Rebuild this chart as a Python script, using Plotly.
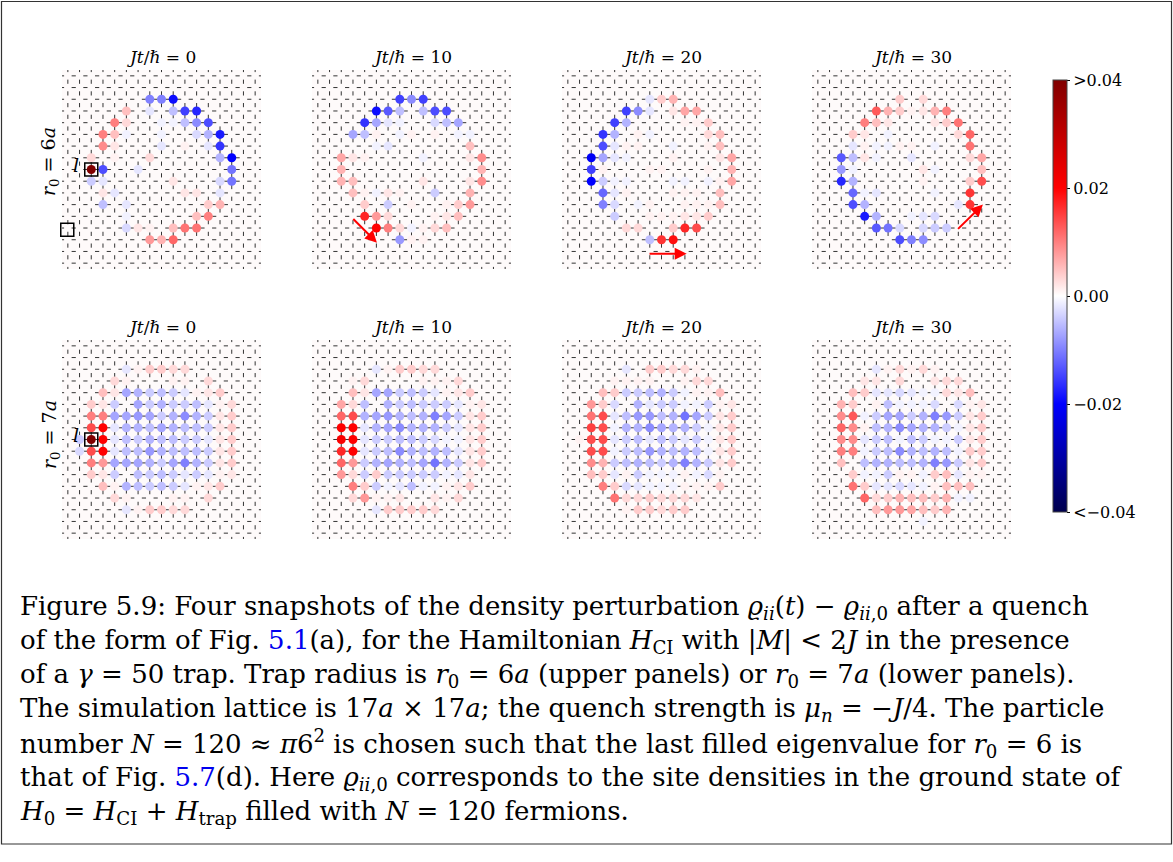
import numpy as np
import plotly.graph_objects as go

W, H = 1173, 862

# Density perturbation (units of 1e-3) on the 17x17 lattice: (column, row, value)
R6_T0 = [
    (7, 14, -10), (8, 14, -10), (9, 14, -19),
    (5, 13, 5), (7, 13, -2), (9, 13, -5), (10, 13, -15), (11, 13, -17),
    (4, 12, 10), (5, 12, 3), (8, 12, -1), (9, 12, -1), (10, 12, -5), (11, 12, -9), (12, 12, -14),
    (3, 11, 10), (4, 11, 5), (5, 11, -1), (8, 11, -1), (11, 11, -3), (12, 11, -6), (13, 11, -18),
    (3, 10, 9), (4, 10, 2), (8, 10, -2), (10, 10, 1), (12, 10, -2), (13, 10, -16),
    (2, 9, 3), (4, 9, 1), (7, 9, 3), (13, 9, -6), (14, 9, -20),
    (2, 8, 45), (3, 8, -14), (6, 8, -2), (14, 8, -11),
    (2, 7, -4), (3, 7, -2), (9, 7, 2), (13, 7, -3), (14, 7, -11),
    (3, 6, 2), (4, 6, -2), (10, 6, 2), (11, 6, 2), (13, 6, -2),
    (3, 5, -5), (5, 5, -2), (12, 5, 4), (13, 5, 6),
    (5, 4, -1), (11, 4, 5), (12, 4, 10),
    (5, 3, -3), (6, 3, 2), (7, 3, 1), (9, 3, 5), (10, 3, 11), (11, 3, 11),
    (7, 2, 8), (8, 2, 6), (9, 2, 12),
]
R6_T10 = [
    (7, 14, -15), (8, 14, -9), (9, 14, -15),
    (5, 13, -19), (6, 13, -13), (7, 13, -5), (9, 13, -5), (10, 13, -14), (11, 13, -14),
    (4, 12, -16), (5, 12, -7), (6, 12, -2), (7, 12, -1), (10, 12, -3), (11, 12, -5), (12, 12, -7),
    (3, 11, -7), (4, 11, -5), (5, 11, 1), (7, 11, -1), (8, 11, 1), (10, 11, 1), (12, 11, -1), (13, 11, -1),
    (5, 10, -1), (6, 10, -2), (13, 10, 5),
    (2, 9, 7), (3, 9, 2), (4, 9, 1), (9, 9, -1), (13, 9, 2), (14, 9, 9),
    (2, 8, 6), (14, 8, 6),
    (2, 7, 6), (3, 7, 5), (9, 7, 2), (13, 7, 2), (14, 7, 9),
    (3, 6, 5), (4, 6, 1), (5, 6, -1), (6, 6, 2), (7, 6, 1), (10, 6, -4), (13, 6, 6),
    (4, 5, 4), (6, 5, -4), (8, 5, 1), (11, 5, 1), (12, 5, 4), (13, 5, 8),
    (4, 4, 17), (5, 4, 8), (6, 4, 3), (10, 4, 1), (11, 4, 2), (12, 4, 5),
    (5, 3, 20), (6, 3, 10), (7, 3, 3), (8, 3, -1), (9, 3, 1), (10, 3, 3), (11, 3, 5),
    (7, 2, -8), (8, 2, 1), (9, 2, 1),
]
R6_T20 = [
    (7, 14, -2), (8, 14, 4), (9, 14, 6),
    (5, 13, -15), (6, 13, -9), (7, 13, -2), (9, 13, 2), (10, 13, 7), (11, 13, 7),
    (4, 12, -15), (5, 12, -6), (10, 12, 1), (11, 12, 1), (12, 12, 4),
    (3, 11, -16), (4, 11, -6), (6, 11, 1), (7, 11, -1), (12, 11, 3), (13, 11, 5),
    (3, 10, -14), (4, 10, -2), (5, 10, 1), (6, 10, 1), (9, 10, -1), (12, 10, 1), (13, 10, 5),
    (2, 9, -21), (3, 9, -7), (4, 9, -2), (5, 9, -1), (9, 9, 1), (13, 9, 2), (14, 9, 7),
    (2, 8, -15), (3, 8, 1), (7, 8, 1), (8, 8, 1), (12, 8, 1), (14, 8, 6),
    (2, 7, -20), (3, 7, -4), (4, 7, -1), (5, 7, -1), (9, 7, -1), (10, 7, -1), (12, 7, -1), (13, 7, 1), (14, 7, 7),
    (3, 6, -12), (4, 6, -2), (5, 6, 1), (9, 6, 1), (10, 6, 1), (11, 6, 1), (13, 6, 5),
    (3, 5, -10), (4, 5, -3), (6, 5, -1), (7, 5, 1), (10, 5, 1), (11, 5, 1), (12, 5, 1), (13, 5, 5),
    (4, 4, -4), (7, 4, 1), (8, 4, 1), (9, 4, 1), (10, 4, 2), (11, 4, 2), (12, 4, 4),
    (5, 3, 3), (6, 3, 3), (9, 3, 4), (10, 3, 17), (11, 3, 14),
    (7, 2, -5), (8, 2, 16), (9, 2, 19),
]
R6_T30 = [
    (7, 14, 4), (9, 14, 3),
    (5, 13, 13), (6, 13, 6), (7, 13, 4), (8, 13, 1), (9, 13, 2), (10, 13, 6), (11, 13, 10),
    (4, 12, 10), (5, 12, 5), (6, 12, 2), (10, 12, 2), (11, 12, 4), (12, 12, 11),
    (3, 11, 4), (4, 11, 2), (6, 11, -1), (12, 11, 3), (13, 11, 12),
    (3, 10, -2), (4, 10, 1), (5, 10, -1), (6, 10, -1), (7, 10, 1), (8, 10, 1), (10, 10, -1), (13, 10, 11),
    (2, 9, -13), (3, 9, -5), (4, 9, 2), (5, 9, -1), (8, 9, -2), (13, 9, 3), (14, 9, 7),
    (2, 8, -8), (3, 8, -1), (9, 8, 2), (10, 8, -1), (14, 8, 5),
    (2, 7, -17), (3, 7, -6), (9, 7, 1), (13, 7, 4), (14, 7, 14),
    (3, 6, -12), (4, 6, -1), (5, 6, -2), (10, 6, -1), (13, 6, 16),
    (3, 5, -14), (4, 5, -6), (12, 5, -2), (13, 5, 16),
    (4, 4, -18), (5, 4, -6), (8, 4, -1), (9, 4, -2), (10, 4, -3),
    (5, 3, -13), (6, 3, -11), (7, 3, -3), (9, 3, -3), (10, 3, -4), (11, 3, -4),
    (7, 2, -14), (8, 2, -10), (9, 2, -9),
]
R7_T0 = [
    (5, 14, -2), (6, 14, 1), (7, 14, 4), (8, 14, 4), (9, 14, 3), (10, 14, 3),
    (4, 13, 3), (5, 13, 1), (9, 13, 1), (10, 13, 1), (12, 13, 3),
    (3, 12, 5), (4, 12, 2), (5, 12, -7), (6, 12, -6), (7, 12, -4), (8, 12, -5), (9, 12, -4), (10, 12, -2), (11, 12, 1), (12, 12, 2), (13, 12, 4),
    (2, 11, 4), (3, 11, 2), (4, 11, -4), (6, 11, -7), (7, 11, -4), (8, 11, -6), (9, 11, -4), (10, 11, -4), (11, 11, -5), (12, 11, -2), (13, 11, 1), (14, 11, 3),
    (2, 10, 10), (3, 10, 10), (4, 10, -7), (5, 10, -7), (6, 10, -8), (7, 10, -7), (8, 10, -4), (9, 10, -6), (10, 10, -9), (11, 10, -6), (12, 10, -4), (13, 10, 2), (14, 10, 4),
    (2, 9, 14), (3, 9, 20), (4, 9, -2), (5, 9, -6), (6, 9, -6), (7, 9, -5), (8, 9, -7), (9, 9, -6), (10, 9, -5), (11, 9, -5), (12, 9, -4), (13, 9, 2), (14, 9, 4),
    (1, 8, -4), (2, 8, 45), (3, 8, 20), (4, 8, -2), (5, 8, -5), (6, 8, -4), (7, 8, -6), (8, 8, -5), (9, 8, -5), (10, 8, -4), (11, 8, -4), (12, 8, -2), (13, 8, 2), (14, 8, 4),
    (1, 7, -3), (2, 7, 14), (3, 7, 20), (4, 7, -2), (5, 7, -5), (6, 7, -5), (7, 7, -8), (8, 7, -6), (9, 7, -5), (10, 7, -5), (11, 7, -5), (12, 7, -4), (13, 7, 2), (14, 7, 4),
    (2, 6, 10), (3, 6, 8), (4, 6, -7), (5, 6, -7), (6, 6, -7), (7, 6, -6), (8, 6, -4), (9, 6, -7), (10, 6, -10), (11, 6, -6), (12, 6, -4), (13, 6, 2), (14, 6, 4),
    (2, 5, 4), (3, 5, 2), (4, 5, -4), (6, 5, -5), (7, 5, -4), (8, 5, -5), (9, 5, -4), (10, 5, -2), (11, 5, -4), (12, 5, -2), (13, 5, 1), (14, 5, 2),
    (3, 4, 5), (4, 4, 1), (5, 4, -6), (6, 4, -5), (7, 4, -4), (8, 4, -5), (9, 4, -4), (10, 4, -2), (11, 4, 1), (12, 4, 2), (13, 4, 4),
    (4, 3, 3), (5, 3, 1), (9, 3, 1), (10, 3, 1), (12, 3, 3),
    (5, 2, -2), (6, 2, 1), (7, 2, 4), (8, 2, 4), (9, 2, 3), (10, 2, 3),
]
R7_T10 = [
    (5, 14, -2), (6, 14, 1), (7, 14, 4), (8, 14, 4), (9, 14, 3), (10, 14, 3),
    (3, 13, 1), (4, 13, 3), (9, 13, 1), (10, 13, 1), (11, 13, 1), (12, 13, 3),
    (3, 12, 5), (4, 12, 2), (5, 12, -7), (6, 12, -7), (7, 12, -4), (8, 12, -5), (9, 12, -4), (10, 12, -2), (11, 12, 1), (12, 12, 2), (13, 12, 4),
    (2, 11, 7), (3, 11, 3), (4, 11, -5), (6, 11, -6), (7, 11, -4), (8, 11, -5), (9, 11, -4), (10, 11, -4), (11, 11, -4), (12, 11, -2), (13, 11, 1), (14, 11, 2),
    (2, 10, 12), (3, 10, 14), (4, 10, -6), (5, 10, -7), (6, 10, -8), (7, 10, -6), (8, 10, -5), (9, 10, -6), (10, 10, -10), (11, 10, -7), (12, 10, -4), (13, 10, 2), (14, 10, 4),
    (2, 9, 20), (3, 9, 20), (4, 9, -2), (5, 9, -6), (6, 9, -7), (7, 9, -9), (8, 9, -6), (9, 9, -6), (10, 9, -6), (11, 9, -4), (12, 9, -2), (13, 9, 2), (14, 9, 4),
    (2, 8, 21), (3, 8, 20), (4, 8, -2), (5, 8, -4), (6, 8, -4), (7, 8, -5), (8, 8, -5), (9, 8, -4), (10, 8, -3), (11, 8, -1), (12, 8, -1), (13, 8, 2), (14, 8, 4),
    (2, 7, 17), (3, 7, 20), (4, 7, -2), (5, 7, -4), (6, 7, -5), (7, 7, -9), (8, 7, -6), (9, 7, -5), (10, 7, -6), (11, 7, -5), (12, 7, -2), (13, 7, 2), (14, 7, 4),
    (2, 6, 12), (3, 6, 8), (4, 6, -4), (5, 6, -6), (6, 6, -7), (7, 6, -6), (8, 6, -5), (9, 6, -7), (10, 6, -11), (11, 6, -6), (12, 6, -4), (13, 6, 2), (14, 6, 4),
    (2, 5, 8), (3, 5, 3), (4, 5, -4), (5, 5, 4), (6, 5, -4), (7, 5, -4), (8, 5, -4), (9, 5, -4), (10, 5, -4), (11, 5, -1), (12, 5, -2), (13, 5, 2),
    (3, 4, 10), (4, 4, 4), (5, 4, -4), (6, 4, -1), (7, 4, -2), (8, 4, -5), (9, 4, -1), (10, 4, -1), (11, 4, 1), (12, 4, 2), (13, 4, 4),
    (3, 3, 3), (4, 3, 8), (5, 3, 1), (6, 3, 1), (7, 3, 2), (10, 3, 2), (11, 3, 1), (12, 3, 3),
    (5, 2, -2), (6, 2, 4), (7, 2, 4), (8, 2, 4), (9, 2, 4), (10, 2, 3),
]
R7_T20 = [
    (5, 14, -2), (7, 14, 4), (8, 14, 4), (9, 14, 3), (10, 14, 3), (11, 14, 1),
    (4, 13, 1), (5, 13, 1), (6, 13, 1), (7, 13, 1), (10, 13, 1), (11, 13, 3), (12, 13, 3),
    (3, 12, 5), (4, 12, 4), (5, 12, -4), (6, 12, -4), (7, 12, -5), (8, 12, -6), (9, 12, -4), (10, 12, -1), (11, 12, 1), (12, 12, 1), (13, 12, 5),
    (2, 11, 8), (3, 11, 4), (4, 11, -3), (6, 11, -6), (7, 11, -2), (8, 11, -4), (9, 11, -4), (10, 11, -1), (11, 11, -1), (12, 11, -4), (13, 11, 1), (14, 11, 2),
    (2, 10, 11), (3, 10, 14), (4, 10, -2), (5, 10, -5), (6, 10, -8), (7, 10, -8), (8, 10, -5), (9, 10, -6), (10, 10, -11), (11, 10, -7), (12, 10, -4), (13, 10, 2), (14, 10, 4),
    (2, 9, 15), (3, 9, 14), (4, 9, -1), (5, 9, -6), (6, 9, -6), (7, 9, -9), (8, 9, -7), (9, 9, -6), (10, 9, -6), (11, 9, -4), (12, 9, -1), (13, 9, 2), (14, 9, 4),
    (1, 8, 1), (2, 8, 14), (3, 8, 14), (4, 8, -2), (5, 8, -4), (6, 8, -5), (7, 8, -2), (8, 8, -5), (9, 8, -4), (10, 8, -2), (11, 8, -4), (12, 8, -1), (13, 8, 2), (14, 8, 4),
    (2, 7, 14), (3, 7, 14), (4, 7, -1), (5, 7, -4), (6, 7, -5), (7, 7, -8), (8, 7, -6), (9, 7, -5), (10, 7, -6), (11, 7, -5), (12, 7, -1), (13, 7, 2), (14, 7, 4),
    (2, 6, 9), (3, 6, 6), (4, 6, -4), (5, 6, -5), (6, 6, -6), (7, 6, -5), (8, 6, -4), (9, 6, -6), (10, 6, -10), (11, 6, -6), (12, 6, -4), (13, 6, 2), (14, 6, 4),
    (2, 5, 5), (3, 5, 4), (4, 5, -2), (5, 5, 1), (6, 5, -4), (7, 5, -1), (8, 5, -1), (9, 5, -1), (10, 5, 1), (11, 5, -1), (12, 5, -3), (13, 5, 1),
    (3, 4, 10), (4, 4, 4), (5, 4, -3), (6, 4, -2), (7, 4, -1), (8, 4, -1), (9, 4, -1), (10, 4, 1), (11, 4, 1), (12, 4, 1), (13, 4, 4),
    (4, 3, 11), (5, 3, 3), (6, 3, 3), (7, 3, 4), (8, 3, 3), (9, 3, 3), (10, 3, 3), (11, 3, 2),
    (5, 2, 1), (6, 2, 4), (7, 2, 4), (8, 2, 3), (9, 2, 4), (10, 2, 4),
]
R7_T30 = [
    (5, 14, -2), (6, 14, 1), (7, 14, 3), (8, 14, 1), (9, 14, 3), (10, 14, 1),
    (4, 13, 2), (5, 13, 2), (7, 13, 3), (10, 13, 2), (11, 13, 3), (12, 13, 3),
    (3, 12, 5), (4, 12, 4), (5, 12, -2), (6, 12, -2), (7, 12, -3), (8, 12, -2), (9, 12, -1), (10, 12, -1), (11, 12, 3), (12, 12, 2), (13, 12, 5),
    (2, 11, 6), (3, 11, 4), (5, 11, 1), (6, 11, -5), (7, 11, -1), (8, 11, -1), (9, 11, -1), (10, 11, -3), (12, 11, -3), (13, 11, 1), (14, 11, 2),
    (2, 10, 9), (3, 10, 13), (4, 10, -1), (5, 10, -4), (6, 10, -7), (7, 10, -7), (8, 10, -4), (9, 10, -6), (10, 10, -10), (11, 10, -8), (12, 10, -4), (13, 10, 2), (14, 10, 4),
    (2, 9, 12), (3, 9, 9), (4, 9, 1), (5, 9, -5), (6, 9, -6), (7, 9, -9), (8, 9, -7), (9, 9, -6), (10, 9, -6), (11, 9, -4), (12, 9, -1), (13, 9, 2), (14, 9, 4),
    (2, 8, 9), (3, 8, 9), (4, 8, -2), (5, 8, -4), (6, 8, -5), (7, 8, -1), (8, 8, -5), (9, 8, -4), (10, 8, -1), (11, 8, -1), (12, 8, -4), (13, 8, 2), (14, 8, 4),
    (2, 7, 10), (3, 7, 10), (4, 7, -1), (5, 7, -4), (6, 7, -5), (7, 7, -9), (8, 7, -6), (9, 7, -5), (10, 7, -6), (11, 7, -5), (12, 7, -1), (13, 7, 4), (14, 7, 4),
    (2, 6, 5), (4, 6, -5), (5, 6, -6), (6, 6, -6), (7, 6, -5), (8, 6, -5), (9, 6, -6), (10, 6, -10), (11, 6, -8), (12, 6, -4), (13, 6, 2), (14, 6, 4),
    (3, 5, 4), (4, 5, -1), (5, 5, -1), (6, 5, -4), (7, 5, 1), (8, 5, 1), (9, 5, -1), (10, 5, 4), (11, 5, 5), (12, 5, -2), (13, 5, 1), (14, 5, 1),
    (3, 4, 11), (4, 4, 4), (5, 4, -2), (6, 4, -2), (7, 4, -3), (8, 4, -2), (9, 4, -1), (10, 4, 1), (11, 4, 5), (12, 4, 5), (13, 4, 5),
    (4, 3, 12), (5, 3, 3), (6, 3, 4), (7, 3, 6), (8, 3, 5), (9, 3, 5), (10, 3, 4), (11, 3, 6), (12, 3, -1), (13, 3, -1),
    (5, 2, 5), (6, 2, 8), (7, 2, 8), (8, 2, 7), (9, 2, 5), (10, 2, 4), (11, 2, 6),
    (9, 1, -1),
]

TIMES = [0, 10, 20, 30]
RADII = [6, 7]
PANELS = [[R6_T0, R6_T10, R6_T20, R6_T30], [R7_T0, R7_T10, R7_T20, R7_T30]]

# Propagation direction arrows for the r0 = 6a row: panel index -> (start, end) in lattice units
ARROWS = {1: ((2.9, 3.9), (5.05, 1.75)), 2: ((6.85, 0.8), (10.15, 0.8)), 3: ((11.85, 2.8), (14.1, 5.0))}

L = 17
SITE_L = (2, 8)           # perturbed site l
SQUARE_2 = (-0.05, 2.85)  # second marker square (upper left panel)

SEISMIC = [[0.0, "rgb(0,0,77)"], [0.25, "rgb(0,0,255)"], [0.5, "rgb(255,255,255)"],
           [0.75, "rgb(255,0,0)"], [1.0, "rgb(128,0,0)"]]

SERIF = "DejaVu Serif, Liberation Serif, serif"

fig = go.Figure()

# panel boxes in pixels
ROW_Y = [(70, 269), (340, 539)]
COL_X0 = [62, 312, 562, 812]
PW = 199

bond_h_x = np.repeat(np.arange(-1, L) + 0.5, L)
bond_h_y = np.tile(np.arange(L), L + 1)
bond_v_x = np.repeat(np.arange(L), L + 1)
bond_v_y = np.tile(np.arange(-1, L) + 0.5, L)

annotations = []
shapes = []
k = 0
for r, row in enumerate(PANELS):
    for c, data in enumerate(row):
        k += 1
        xa = "x" if k == 1 else f"x{k}"
        ya = "y" if k == 1 else f"y{k}"
        x0 = COL_X0[c] / W
        x1 = (COL_X0[c] + PW) / W
        y0 = 1 - ROW_Y[r][1] / H
        y1 = 1 - ROW_Y[r][0] / H
        axkey = "" if k == 1 else str(k)
        fig.update_layout(**{
            f"xaxis{axkey}": dict(domain=[x0, x1], range=[-0.5, L - 0.5], visible=False,
                                  anchor=ya, fixedrange=True),
            f"yaxis{axkey}": dict(domain=[y0, y1], range=[-0.5, L - 0.5], visible=False,
                                  anchor=xa, fixedrange=True),
        })
        # lattice bonds
        fig.add_trace(go.Scatter(x=bond_h_x, y=bond_h_y, mode="markers", xaxis=xa, yaxis=ya,
                                 marker=dict(symbol="line-ew", size=3, color="#333",
                                             line=dict(width=1, color="#333")),
                                 hoverinfo="skip", showlegend=False))
        fig.add_trace(go.Scatter(x=bond_v_x, y=bond_v_y, mode="markers", xaxis=xa, yaxis=ya,
                                 marker=dict(symbol="line-ns", size=3, color="#333",
                                             line=dict(width=1, color="#333")),
                                 hoverinfo="skip", showlegend=False))
        # site densities
        xs = [d[0] for d in data]
        ys = [d[1] for d in data]
        vs = [d[2] * 1e-3 for d in data]
        fig.add_trace(go.Scatter(x=xs, y=ys, mode="markers", xaxis=xa, yaxis=ya,
                                 marker=dict(size=9, color=vs, coloraxis="coloraxis",
                                             line=dict(width=0)),
                                 showlegend=False))
        # panel background
        shapes.append(dict(type="rect", xref=f"{xa} domain", yref=f"{ya} domain",
                           x0=0, x1=1, y0=0, y1=1, fillcolor="#fefafa",
                           line=dict(width=0), layer="below"))
        # title
        annotations.append(dict(text=f"<i>Jt</i>/<i>ℏ</i> = {TIMES[c]}", xref="paper", yref="paper",
                                x=(x0 + x1) / 2, y=1 - (ROW_Y[r][0] - 13) / H,
                                xanchor="center", yanchor="middle", showarrow=False,
                                font=dict(family=SERIF, size=17, color="black")))
        if c == 0:
            sq_x = [SITE_L[0]]
            sq_y = [SITE_L[1]]
            if r == 0:
                sq_x.append(SQUARE_2[0])
                sq_y.append(SQUARE_2[1])
            fig.add_trace(go.Scatter(x=sq_x, y=sq_y, mode="markers", xaxis=xa, yaxis=ya,
                                     marker=dict(symbol="square-open", size=13, color="black",
                                                 line=dict(width=1.5, color="black")),
                                     cliponaxis=False, hoverinfo="skip", showlegend=False))
            annotations.append(dict(text="<i>l</i>", xref=xa, yref=ya, x=0.7, y=8.35,
                                    showarrow=False, xanchor="center", yanchor="middle",
                                    font=dict(family=SERIF, size=19, color="black")))
            annotations.append(dict(text=f"<i>r</i><sub>0</sub> = {RADII[r]}<i>a</i>",
                                    xref="paper", yref="paper", x=50 / W,
                                    y=1 - (ROW_Y[r][0] + (92 if r == 0 else 95)) / H,
                                    textangle=-90, showarrow=False,
                                    xanchor="center", yanchor="middle",
                                    font=dict(family=SERIF, size=19, color="black")))
        if r == 0 and c in ARROWS:
            (sx, sy), (ex, ey) = ARROWS[c]
            annotations.append(dict(x=ex, y=ey, ax=sx, ay=sy, xref=xa, yref=ya,
                                    axref=xa, ayref=ya, text="", showarrow=True,
                                    arrowhead=2, arrowsize=1.2, arrowwidth=2,
                                    arrowcolor="#ff0000"))

# caption
CAPTION = [
    "Figure 5.9: Four snapshots of the density perturbation <i>ϱ<sub>ii</sub></i>(<i>t</i>) − <i>ϱ</i><sub><i>ii</i>,0</sub> after a quench",
    "of the form of Fig. <span style='color:#0000ee'>5.1</span>(a), for the Hamiltonian <i>H</i><sub>CI</sub> with |<i>M</i>| &lt; 2<i>J</i> in the presence",
    "of a <i>γ</i> = 50 trap. Trap radius is <i>r</i><sub>0</sub> = 6<i>a</i> (upper panels) or <i>r</i><sub>0</sub> = 7<i>a</i> (lower panels).",
    "The simulation lattice is 17<i>a</i> × 17<i>a</i>; the quench strength is <i>μ<sub>n</sub></i> = −<i>J</i>/4. The particle",
    "number <i>N</i> = 120 ≈ <i>π</i>6<sup>2</sup> is chosen such that the last filled eigenvalue for <i>r</i><sub>0</sub> = 6 is",
    "that of Fig. <span style='color:#0000ee'>5.7</span>(d). Here <i>ϱ</i><sub><i>ii</i>,0</sub> corresponds to the site densities in the ground state of",
    "<i>H</i><sub>0</sub> = <i>H</i><sub>CI</sub> + <i>H</i><sub>trap</sub> filled with <i>N</i> = 120 fermions.",
]
for n, line in enumerate(CAPTION):
    annotations.append(dict(text=line, xref="paper", yref="paper", x=18 / W,
                            y=1 - (607 + 34.2 * n) / H, xanchor="left", yanchor="middle",
                            showarrow=False, align="left",
                            font=dict(family=SERIF, size=26, color="black")))

# outer frame
shapes.append(dict(type="rect", xref="paper", yref="paper", x0=1.5 / W, x1=1 - 1.5 / W,
                   y0=1 - 844 / H, y1=1 - 1.5 / H, line=dict(color="#333", width=1.2),
                   fillcolor="rgba(0,0,0,0)", layer="above"))

fig.update_layout(
    width=W, height=H, autosize=False,
    margin=dict(l=0, r=0, t=0, b=0),
    paper_bgcolor="white", plot_bgcolor="rgba(0,0,0,0)",
    annotations=annotations, shapes=shapes,
    coloraxis=dict(
        colorscale=SEISMIC, cmin=-0.04, cmax=0.04,
        colorbar=dict(
            x=1053 / W, xanchor="left", y=1 - 296 / H, yanchor="middle",
            len=432, lenmode="pixels", thickness=14, thicknessmode="pixels",
            ypad=0, xpad=0,
            outlinewidth=1, outlinecolor="#444",
            tickvals=[-0.04, -0.02, 0.0, 0.02, 0.04],
            ticktext=["&lt;−0.04", "−0.02", "0.00", "0.02", "&gt;0.04"],
            ticks="outside", ticklen=3, tickcolor="black",
            tickfont=dict(family=SERIF, size=16, color="black"),
        ),
    ),
)

fig.write_html("out.html")
